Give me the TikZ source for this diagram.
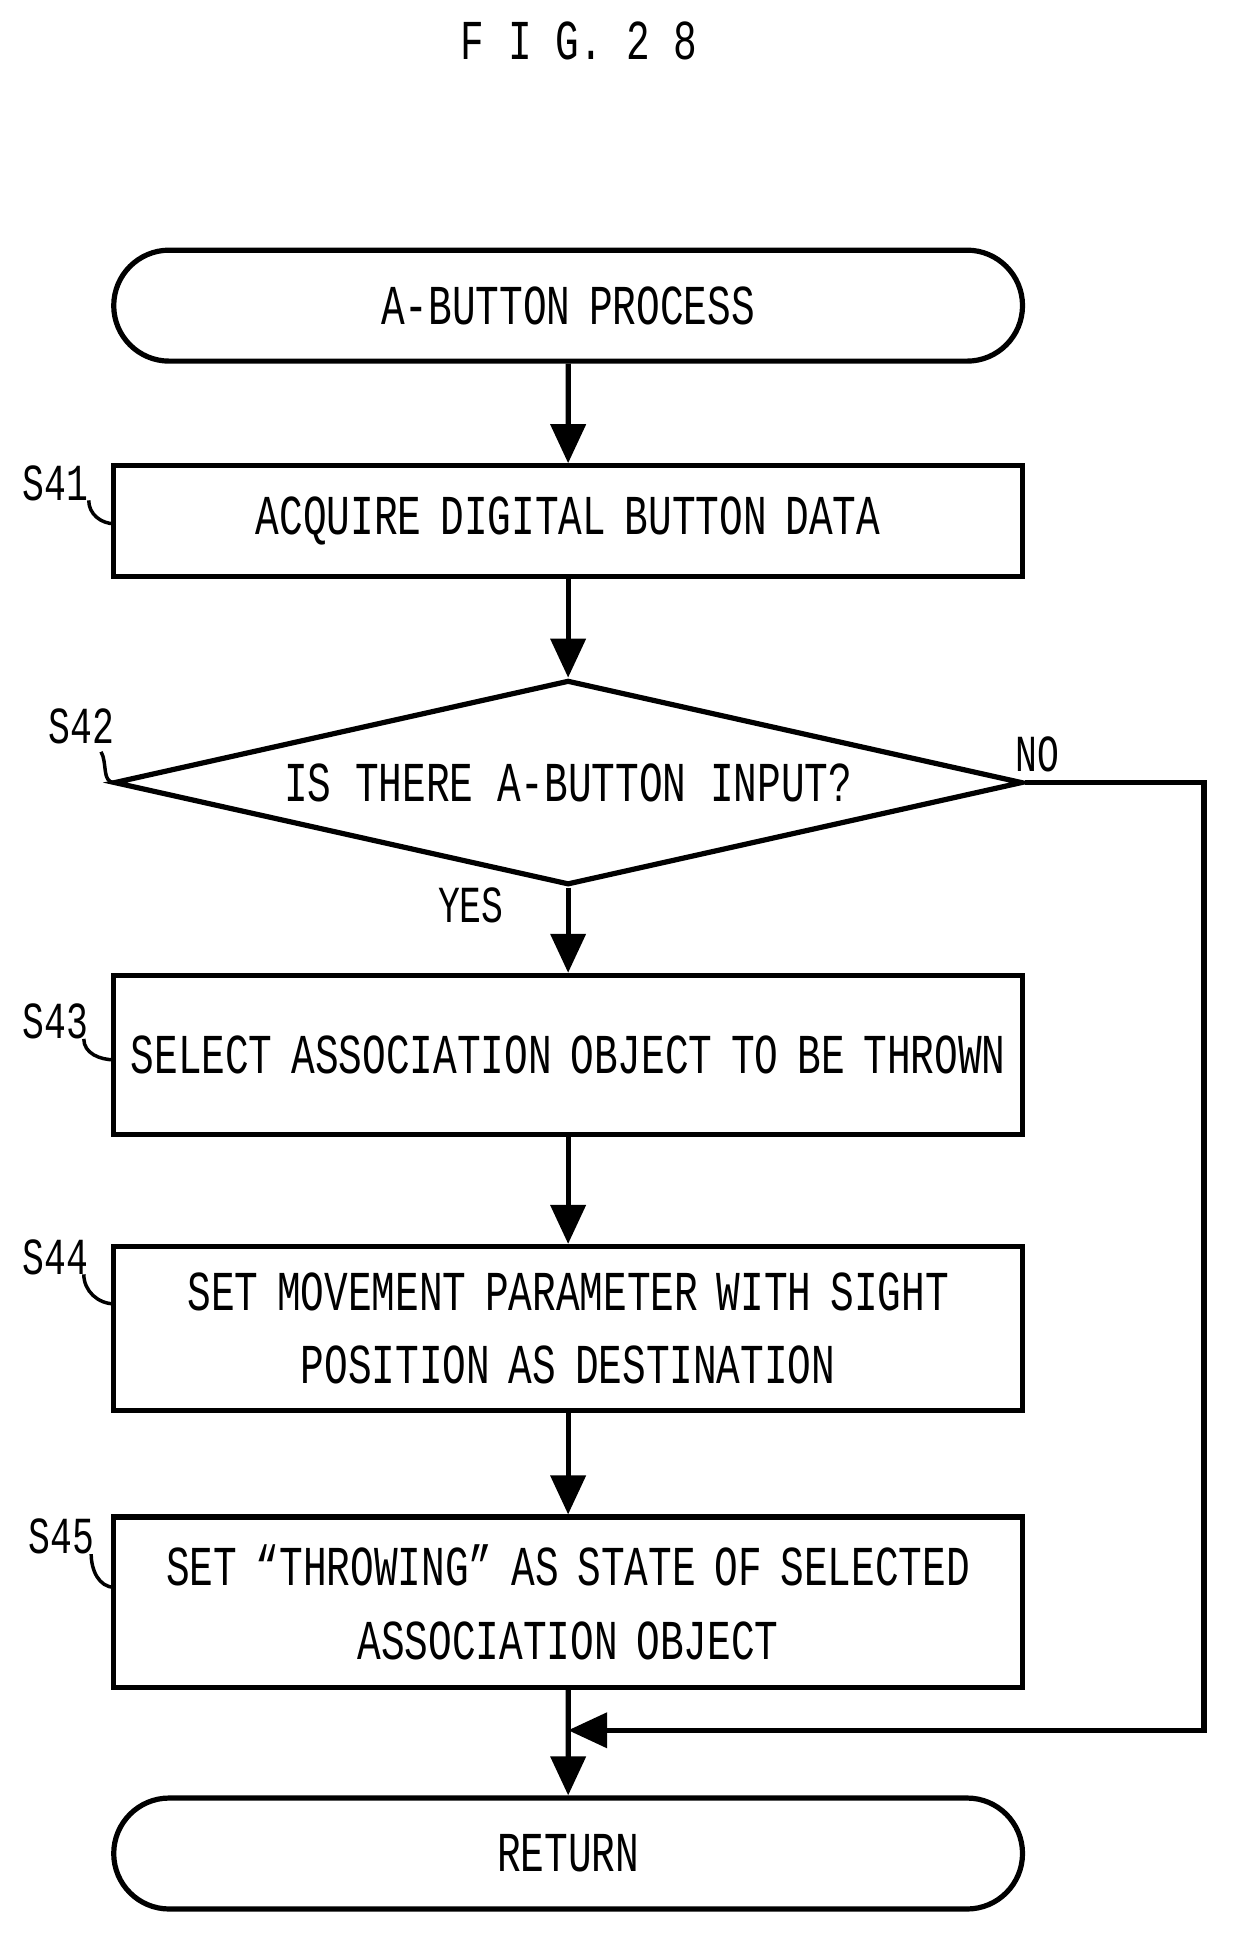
\documentclass[tikz,border=0pt]{standalone}
\usepackage{fontspec}
\setmainfont[FakeStretch=0.7]{Liberation Mono}
\usetikzlibrary{shapes.geometric,shapes.misc,arrows.meta}

\begin{document}
\begin{tikzpicture}[x=0.01cm, y=-0.01cm,
    every node/.style={font=\fontsize{13}{17}\selectfont},
    term/.style={draw, line width=1.2pt, rounded rectangle, minimum width=7.37cm, minimum height=0.9cm, inner xsep=0pt, text width=5cm, align=center},
    proc/.style={draw, line width=1.2pt, rectangle, text width=7.2cm, inner xsep=0.085cm, align=center},
    test/.style={draw, line width=1.2pt, diamond, aspect=4.44, minimum width=7.37cm, minimum height=1.66cm, inner sep=0pt},
    flow/.style={line width=1.2pt, -{Triangle[length=9pt, width=8pt]}},
    lead/.style={line width=0.8pt},
    lbl/.style={font=\fontsize{12}{14}\selectfont}]
      \useasboundingbox (0,0) rectangle (1000,1575);
      \node at (470,33) {F I G. 2 8};
      % boxes
      \node [term] (start) at (461,248) {A-BUTTON PROCESS};
      \node [proc, minimum height=0.9cm] (s41) at (461,423) {ACQUIRE DIGITAL BUTTON DATA};
      \node [test] (s42) at (461,635) {IS THERE A-BUTTON INPUT?};
      \node [proc, minimum height=1.29cm] (s43) at (461,856) {SELECT ASSOCIATION OBJECT TO BE THROWN};
      \node [proc, minimum height=1.33cm] (s44) at (461,1078) {SET MOVEMENT PARAMETER WITH SIGHT\\POSITION AS DESTINATION};
      \node [proc, minimum height=1.38cm] (s45) at (461,1300) {SET “THROWING” AS STATE OF SELECTED\\ASSOCIATION OBJECT};
      \node [term] (ret) at (461,1504) {RETURN};
      \coordinate (corner) at (977,635);
      \coordinate (merge) at (977,1404);
      \coordinate (join) at (461,1404);
      % connectors
      \draw [flow] (start) -- (s41);
      \draw [flow] (s41) -- (s42);
      \draw [flow] (s42) -- (s43);
      \draw [flow] (s43) -- (s44);
      \draw [flow] (s44) -- (s45);
      \draw [flow] (s45) -- (ret);
      \draw [flow] (s42.east) -- (corner) -- (merge) -- (join);
      \node [lbl] at (842,612) {NO};
      \node [lbl] at (382,735) {YES};
      % step labels
      \node [lbl] (l41) at (45,392) {S41};
      \draw [lead] (72,406) to [out=-90, in=180] (93,425);
      \node [lbl] (l42) at (66,589) {S42};
      \draw [lead] (93,635) to [out=180, in=-60] (82,610);
      \node [lbl] (l43) at (45,829) {S43};
      \draw [lead] (68,843) to [out=-90, in=180] (93,860);
      \node [lbl] (l44) at (45,1020) {S44};
      \draw [lead] (68,1034) to [out=-90, in=180] (93,1058);
      \node [lbl] (l45) at (50,1247) {S45};
      \draw [lead] (74,1261) to [out=-90, in=180] (93,1288);
\end{tikzpicture}
\end{document}
